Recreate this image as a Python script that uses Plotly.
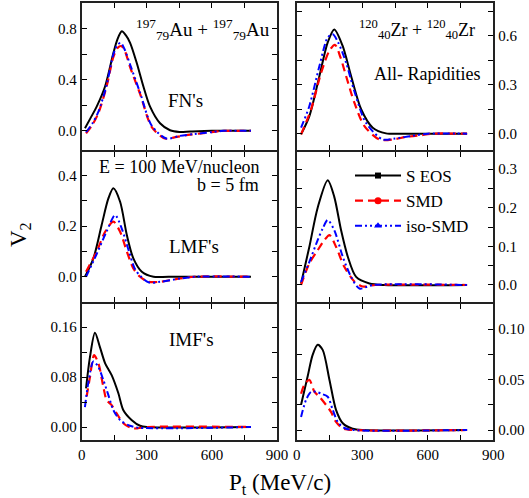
import plotly.graph_objects as go

# ---------------- data ----------------
# Panel 1: Au+Au, FN's
AU_FN_SEOS_X = [15, 40, 69, 108, 146, 165, 185, 203, 223, 254, 284, 315, 361, 407, 450, 500, 600, 700, 780]
AU_FN_SEOS_Y = [0.02, 0.098, 0.19, 0.35, 0.61, 0.72, 0.78, 0.75, 0.69, 0.53, 0.35, 0.19, 0.06, 0.005, -0.008, -0.005, 0.0, 0.0, 0.0]
AU_FN_SMD_X = [20, 50, 77, 115, 146, 165, 182, 198, 223, 269, 323, 384, 438, 500, 550, 600, 650, 700, 780]
AU_FN_SMD_Y = [-0.02, 0.05, 0.14, 0.35, 0.58, 0.65, 0.665, 0.63, 0.50, 0.29, 0.03, -0.06, -0.047, -0.03, -0.02, -0.01, 0.0, 0.0, 0.0]
AU_FN_ISO_X = [20, 50, 77, 115, 146, 165, 180, 200, 223, 269, 323, 390, 450, 520, 600, 650, 780]
AU_FN_ISO_Y = [-0.01, 0.06, 0.15, 0.36, 0.60, 0.675, 0.69, 0.63, 0.52, 0.30, 0.04, -0.06, -0.04, -0.025, -0.01, 0.0, 0.0]

# Panel 2: Zr+Zr, All rapidities (FN's)
ZR_FN_SEOS_X = [20, 58, 104, 142, 172, 210, 249, 295, 348, 409, 500, 780]
ZR_FN_SEOS_Y = [-0.004, 0.108, 0.354, 0.56, 0.64, 0.54, 0.354, 0.15, 0.037, 0.002, 0.0, 0.0]
ZR_FN_SMD_X = [20, 66, 112, 150, 175, 200, 226, 264, 310, 378, 443, 500, 565, 620, 780]
ZR_FN_SMD_Y = [-0.004, 0.15, 0.375, 0.51, 0.545, 0.47, 0.354, 0.19, 0.047, -0.035, -0.035, -0.02, -0.01, 0.0, 0.0]
ZR_FN_ISO_X = [20, 58, 104, 142, 165, 190, 226, 264, 317, 393, 450, 520, 600, 780]
ZR_FN_ISO_Y = [0.037, 0.17, 0.415, 0.59, 0.61, 0.56, 0.436, 0.26, 0.067, -0.035, -0.03, -0.015, 0.0, 0.0]

# Panel 3: Au+Au, LMF's
AU_LMF_SEOS_X = [15, 54, 92, 123, 146, 177, 208, 238, 277, 331, 400, 780]
AU_LMF_SEOS_Y = [0.0, 0.073, 0.205, 0.31, 0.35, 0.297, 0.165, 0.073, 0.02, 0.0, 0.0, 0.0]
AU_LMF_SMD_X = [20, 69, 108, 146, 177, 208, 238, 269, 308, 361, 454, 520, 780]
AU_LMF_SMD_Y = [0.02, 0.1, 0.178, 0.218, 0.178, 0.1, 0.033, 0.0, -0.02, -0.02, -0.007, 0.0, 0.0]
AU_LMF_ISO_X = [20, 69, 115, 154, 185, 218, 249, 308, 361, 454, 520, 780]
AU_LMF_ISO_Y = [0.0, 0.09, 0.18, 0.244, 0.19, 0.1, 0.025, -0.022, -0.02, -0.007, 0.0, 0.0]

# Panel 4: Zr+Zr, LMF's
ZR_LMF_SEOS_X = [20, 58, 96, 142, 172, 203, 234, 272, 333, 400, 780]
ZR_LMF_SEOS_Y = [0.004, 0.099, 0.2, 0.271, 0.228, 0.142, 0.073, 0.021, 0.004, 0.0, 0.0]
ZR_LMF_SMD_X = [20, 58, 96, 127, 150, 180, 218, 264, 302, 360, 780]
ZR_LMF_SMD_Y = [0.0, 0.056, 0.09, 0.116, 0.129, 0.099, 0.047, 0.009, -0.004, 0.0, 0.0]
ZR_LMF_ISO_X = [20, 58, 96, 119, 142, 172, 211, 249, 287, 350, 780]
ZR_LMF_ISO_Y = [0.008, 0.06, 0.116, 0.146, 0.168, 0.142, 0.073, 0.021, -0.009, 0.0, 0.0]

# Panel 5: Au+Au, IMF's
AU_IMF_SEOS_X = [20, 38, 61, 84, 108, 138, 169, 192, 231, 269, 300, 780]
AU_IMF_SEOS_Y = [0.062, 0.112, 0.151, 0.128, 0.102, 0.083, 0.054, 0.027, 0.011, 0.002, 0.0, 0.0]
AU_IMF_SMD_X = [23, 38, 57, 77, 100, 115, 138, 161, 192, 231, 260, 300, 780]
AU_IMF_SMD_Y = [0.049, 0.08, 0.115, 0.102, 0.064, 0.043, 0.035, 0.022, 0.006, -0.002, -0.002, 0.0, 0.0]
AU_IMF_ISO_X = [15, 31, 54, 77, 100, 123, 146, 177, 215, 260, 780]
AU_IMF_ISO_Y = [0.032, 0.072, 0.105, 0.096, 0.075, 0.051, 0.027, 0.011, 0.003, -0.001, 0.0]

# Panel 6: Zr+Zr, IMF's
ZR_IMF_SEOS_X = [20, 50, 73, 96, 119, 150, 180, 211, 256, 300, 780]
ZR_IMF_SEOS_Y = [0.025, 0.053, 0.0745, 0.0845, 0.0795, 0.0497, 0.02, 0.0067, 0.0013, 0.0, 0.0]
ZR_IMF_SMD_X = [20, 35, 58, 81, 104, 134, 157, 180, 211, 260, 780]
ZR_IMF_SMD_Y = [0.036, 0.045, 0.0497, 0.038, 0.033, 0.025, 0.018, 0.008, 0.0017, 0.0, 0.0]
ZR_IMF_ISO_X = [20, 43, 66, 88, 112, 142, 165, 188, 218, 260, 780]
ZR_IMF_ISO_Y = [0.013, 0.03, 0.038, 0.038, 0.036, 0.033, 0.02, 0.008, 0.002, 0.0, 0.0]

SERIES_NAMES = ["S EOS", "SMD", "iso-SMD"]

X_TICKVALS = [0, 150, 300, 450, 600, 750, 900]
X_TICKTEXT = ["0", "", "300", "", "600", "", "900"]

Y_TICKS = {
    1: ([0, 0.2, 0.4, 0.6, 0.8], ["0.0", "", "0.4", "", "0.8"]),
    2: ([0, 0.15, 0.3, 0.45, 0.6, 0.75], ["0.0", "", "0.3", "", "0.6", ""]),
    3: ([0, 0.1, 0.2, 0.3, 0.4], ["0.0", "", "0.2", "", "0.4"]),
    4: ([0, 0.05, 0.1, 0.15, 0.2, 0.25, 0.3], ["0.0", "", "0.1", "", "0.2", "", "0.3"]),
    5: ([0, 0.04, 0.08, 0.12, 0.16], ["0.00", "", "0.08", "", "0.16"]),
    6: ([0, 0.025, 0.05, 0.075, 0.1], ["0.00", "", "0.05", "", "0.10"]),
}
Y_RANGES = {1: [-0.15, 1.0], 2: [-0.1, 0.8], 3: [-0.1, 0.494], 4: [-0.044, 0.344],
            5: [-0.0208, 0.197], 6: [-0.0099, 0.125]}

PANELS = {
    1: [(AU_FN_SEOS_X, AU_FN_SEOS_Y), (AU_FN_SMD_X, AU_FN_SMD_Y), (AU_FN_ISO_X, AU_FN_ISO_Y)],
    2: [(ZR_FN_SEOS_X, ZR_FN_SEOS_Y), (ZR_FN_SMD_X, ZR_FN_SMD_Y), (ZR_FN_ISO_X, ZR_FN_ISO_Y)],
    3: [(AU_LMF_SEOS_X, AU_LMF_SEOS_Y), (AU_LMF_SMD_X, AU_LMF_SMD_Y), (AU_LMF_ISO_X, AU_LMF_ISO_Y)],
    4: [(ZR_LMF_SEOS_X, ZR_LMF_SEOS_Y), (ZR_LMF_SMD_X, ZR_LMF_SMD_Y), (ZR_LMF_ISO_X, ZR_LMF_ISO_Y)],
    5: [(AU_IMF_SEOS_X, AU_IMF_SEOS_Y), (AU_IMF_SMD_X, AU_IMF_SMD_Y), (AU_IMF_ISO_X, AU_IMF_ISO_Y)],
    6: [(ZR_IMF_SEOS_X, ZR_IMF_SEOS_Y), (ZR_IMF_SMD_X, ZR_IMF_SMD_Y), (ZR_IMF_ISO_X, ZR_IMF_ISO_Y)],
}

# ---------------- styling ----------------
W, H = 529, 498
FONT = "Liberation Serif, Times New Roman, serif"
LW = 2.0


def fx(px):
    return px / W


def fy(py):
    return 1 - py / H


STYLES = [
    dict(color="black", width=2.0, dash="solid"),
    dict(color="#ff0000", width=2.2, dash="8px,5px"),
    dict(color="#0000ff", width=2.0, dash="7px,3px,2px,3px,2px,3px"),
]
MARKERS = [dict(symbol="square", size=6, color="black"),
           dict(symbol="circle", size=7, color="#ff0000"),
           dict(symbol="triangle-up", size=7, color="#0000ff")]

XDOM = {"L": [fx(81.7), fx(277.0)], "R": [fx(296.7), fx(493.3)]}
# shared borders of stacked panels are made to coincide
YDOM = {0: [fy(150.0), fy(3.3)], 1: [fy(302.0), fy(150.0 + LW)], 2: [fy(440.0), fy(302.0 + LW)]}

fig = go.Figure()

for p, series in PANELS.items():
    sfx = "" if p == 1 else str(p)
    for i, (xs, ys) in enumerate(series):
        fig.add_trace(go.Scatter(
            x=xs, y=ys, mode="lines", line=dict(**STYLES[i], shape="spline", smoothing=0.8),
            xaxis="x" + sfx, yaxis="y" + sfx, showlegend=False, hoverinfo="skip"))

# legend-only entries (shown in the middle-right panel)
for i, name in enumerate(SERIES_NAMES):
    fig.add_trace(go.Scatter(x=[None], y=[None], mode="lines+markers", name=name,
                             line=STYLES[i], marker=MARKERS[i], xaxis="x4", yaxis="y4"))

layout = {}
for p in range(1, 7):
    sfx = "" if p == 1 else str(p)
    col = "L" if p % 2 == 1 else "R"
    row = (p - 1) // 2
    common = dict(showline=True, linecolor="#222222", linewidth=LW, mirror="allticks",
                  ticks="inside", ticklen=5, tickwidth=1.3, tickcolor="black",
                  showgrid=False, zeroline=False, automargin=False,
                  tickfont=dict(family=FONT, size=15, color="black"))
    layout["xaxis" + sfx] = dict(common, domain=XDOM[col], anchor="y" + sfx, range=[0, 900],
                                 tickmode="array", tickvals=X_TICKVALS, ticktext=X_TICKTEXT,
                                 showticklabels=(row == 2))
    tv, tt = Y_TICKS[p]
    layout["yaxis" + sfx] = dict(common, domain=YDOM[row], anchor="x" + sfx, range=Y_RANGES[p],
                                 tickmode="array", tickvals=tv, ticktext=tt,
                                 side="left" if col == "L" else "right")
fig.update_layout(template="none")
fig.update_layout(**layout)


def ann(text, x, y, size, xanchor="center", yanchor="middle", angle=0):
    fig.add_annotation(text=text, x=fx(x), y=fy(y), xref="paper", yref="paper",
                       xanchor=xanchor, yanchor=yanchor, showarrow=False, textangle=angle,
                       font=dict(family=FONT, size=size, color="black"))


ann("<sup>197</sup><sub>79</sub>Au + <sup>197</sup><sub>79</sub>Au", 134, 30, 19, xanchor="left")
ann("FN's", 185, 101, 19)
ann("E = 100 MeV/nucleon", 179, 167, 18)
ann("b = 5 fm", 261, 185, 18, xanchor="right")
ann("LMF's", 194, 247, 19)
ann("IMF's", 191, 339, 19)
ann("<sup>120</sup><sub>40</sub>Zr + <sup>120</sup><sub>40</sub>Zr", 357, 30, 18, xanchor="left")
ann("All- Rapidities", 427, 74, 18)
ann("V<sub>2</sub>", 20, 235, 23, angle=-90)
ann("P<sub>t</sub> (MeV/c)", 280, 484, 23)

fig.update_layout(
    width=W, height=H, margin=dict(l=0, r=0, t=0, b=0, autoexpand=False),
    paper_bgcolor="white", plot_bgcolor="white",
    font=dict(family=FONT, color="black"),
    legend=dict(x=fx(350), y=fy(158), xanchor="left", yanchor="top",
                bgcolor="rgba(0,0,0,0)", font=dict(family=FONT, size=17, color="black"),
                itemwidth=46, tracegroupgap=0, borderwidth=0),
)

# the page body gets no default 8px margin, so the figure sits at the window's corner
fig.write_html("out.html", config={"displayModeBar": False},
               post_script="document.body.style.margin='0px';")
